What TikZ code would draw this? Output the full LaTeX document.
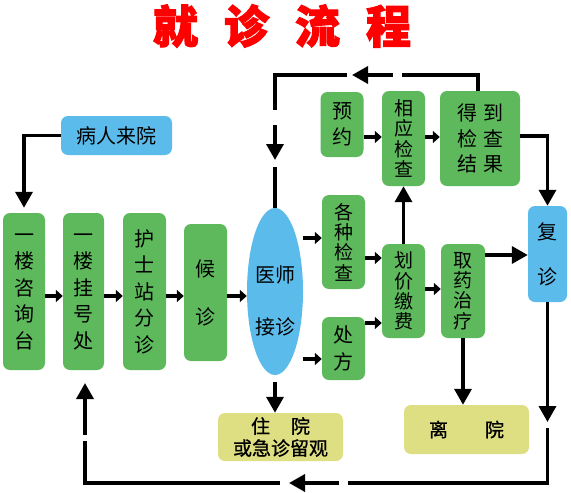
\documentclass[tikz,border=0pt]{standalone}
\usepackage{fontspec}
\newfontfamily\cjk{Noto Sans CJK SC}
\newfontfamily\cjkm{Noto Sans CJK SC}[FakeBold=1]
\newfontfamily\cjkt{Noto Sans CJK SC}[BoldFeatures={FakeBold=2.5}]
\usetikzlibrary{arrows.meta,shapes.geometric}
\definecolor{gfill}{RGB}{93,185,92}
\definecolor{bfill}{RGB}{91,188,236}
\definecolor{yfill}{RGB}{222,223,131}
\definecolor{ttl}{RGB}{255,0,0}
\tikzset{
  box/.style={rounded corners=7pt, inner sep=0pt, align=center, text=black},
  gbox/.style={box, fill=gfill, font={\cjk\fontsize{20}{26.5}\selectfont}},
  gsm/.style={box, fill=gfill, font={\cjk\fontsize{19}{20.3}\selectfont}},
  bbox/.style={box, fill=bfill, font={\cjk\fontsize{20}{26.5}\selectfont}},
  ybox/.style={box, fill=yfill, font={\cjkm\fontsize{19}{22}\selectfont}},
  ln/.style={line width=3.5pt, line join=miter, line cap=butt, draw=black},
  sa/.style={ln, -{Triangle[length=7pt,width=12pt]}},
  ba/.style={ln, -{Triangle[length=16pt,width=17pt]}}
}
\begin{document}
\begin{tikzpicture}[x=1pt,y=-1pt]
\useasboundingbox (0,0) rectangle (571,493);
\fill[white] (0,0) rectangle (571,493);

% title
\node[font={\cjkt\bfseries\fontsize{45}{45}\selectfont}, text=ttl, inner sep=0pt] (title) at (282,26)
  {就\hspace{26pt}诊\hspace{26pt}流\hspace{26pt}程};

% nodes
\node[bbox, minimum width=111, minimum height=39] (br) at (116.5,135.5) {病人来院};
\node[gbox, minimum width=42, minimum height=157] (zx) at (24,291.5) {一\\楼\\咨\\询\\台};
\node[gbox, minimum width=41, minimum height=157] (gh) at (83.5,291.5) {一\\楼\\挂\\号\\处};
\node[gbox, minimum width=43, minimum height=157] (hs) at (144.5,291.5) {护\\士\\站\\分\\诊};
\node[gbox, minimum width=43, minimum height=137, font={\cjk\fontsize{20}{48}\selectfont}] (hz) at (205.5,292.5) {候\\诊};
\node[ellipse, fill=bfill, inner sep=0pt, minimum width=56, minimum height=167] (ys) at (275,291.5) {};
\node[font={\cjk\fontsize{20}{52}\selectfont}, align=center, inner sep=0pt] (yst) at (275,301) {医师\\接诊};

\node[gbox, minimum width=43, minimum height=65] (yy) at (342,124.5) {预\\约};
\node[gsm, minimum width=43, minimum height=95] (xy) at (403.5,138.5) {相\\应\\检\\查};
\node[gbox, minimum width=80, minimum height=95, font={\cjk\fontsize{20}{25.5}\selectfont}] (dd) at (480,138.5) {得\hspace{6pt}到\\检\hspace{6pt}查\\结\hspace{6pt}果};
\node[gsm, minimum width=43, minimum height=94] (gz) at (343.5,242) {各\\种\\检\\查};
\node[gbox, minimum width=43, minimum height=63, font={\cjk\fontsize{20}{27}\selectfont}] (cf) at (343.5,348.5) {处\\方};
\node[gsm, minimum width=43, minimum height=94] (hj) at (403.5,291) {划\\价\\缴\\费};
\node[gsm, minimum width=44, minimum height=94] (qy) at (463,291) {取\\药\\治\\疗};
\node[bbox, minimum width=39, minimum height=96, font={\cjk\fontsize{20}{45}\selectfont}] (fz) at (547.5,254) {复\\诊};
\node[ybox, minimum width=125, minimum height=48] (zy) at (280.5,437) {住\hspace{21pt}院\\或急诊留观};
\node[ybox, minimum width=125, minimum height=49] (ly) at (466.5,429.5) {离\hspace{37pt}院};

% small arrows
\draw[sa] (zx.east |- 0,296) -- (gh.west |- 0,296);
\draw[sa] (gh.east |- 0,296) -- (hs.west |- 0,296);
\draw[sa] (hs.east |- 0,296) -- (hz.west |- 0,296);
\draw[sa] (hz.east |- 0,296) -- (ys.west |- 0,296);
\draw[sa] (ys.east |- 0,238) -- (gz.west |- 0,238);
\draw[sa] (ys.east |- 0,359) -- (cf.west |- 0,359);
\draw[sa] (gz.east |- 0,258) -- (hj.west |- 0,258);
\draw[sa] (cf.east |- 0,323) -- (hj.west |- 0,323);
\draw[sa] (hj.east |- 0,289) -- (qy.west |- 0,289);
\draw[sa] (yy.east |- 0,137) -- (xy.west |- 0,137);
\draw[sa] (xy.east |- 0,137) -- (dd.west |- 0,137);

% big arrows
\draw[ba, shorten >=5pt] (br.west) -| (zx.north);
\draw[ba] (dd.east |- 0,136) -| (fz.north);
\draw[ba] (qy.east |- 0,255) -- (fz.west |- 0,255);
\draw[ba] (hj.north) -- (xy.south);
\draw[ba, shorten <=7pt] (ys.south) -- (ys.south |- zy.north);
\draw[ba] (qy.south) -- (qy.south |- ly.north);

% return loop (bottom)
\coordinate (r1) at (547.5,422);
\coordinate (r2) at (547.5,428);
\coordinate (r3) at (547.5,483);
\coordinate (r4) at (348,483);
\coordinate (r5) at (339,483);
\coordinate (r6) at (289,483);
\coordinate (r7) at (280,483);
\coordinate (r8) at (85,483);
\coordinate (r9) at (85,441);
\coordinate (r10) at (85,435);
\coordinate (r11) at (85,383);
\draw[ba] (fz.south) -- (r1);
\draw[ln] (r2) -- (r3) -- (r4);
\draw[ba] (r5) -- (r6);
\draw[ln] (r7) -- (r8) -- (r9);
\draw[ba] (r10) -- (r11);

% top loop
\coordinate (t1) at (478,75);
\coordinate (t2) at (402,75);
\coordinate (t3) at (393,75);
\coordinate (t4) at (352,75);
\coordinate (t5) at (347,75);
\coordinate (t6) at (275,75);
\coordinate (t7) at (275,110);
\coordinate (t8) at (275,125);
\coordinate (t9) at (275,160);
\coordinate (t10) at (275,167);
\draw[ln] (dd.north -| t1) -- (t1) -- (t2);
\draw[ba] (t3) -- (t4);
\draw[ln] (t5) -- (t6) -- (t7);
\draw[ba] (t8) -- (t9);
\draw[ln] (t10) -- (ys.north);
\end{tikzpicture}
\end{document}
